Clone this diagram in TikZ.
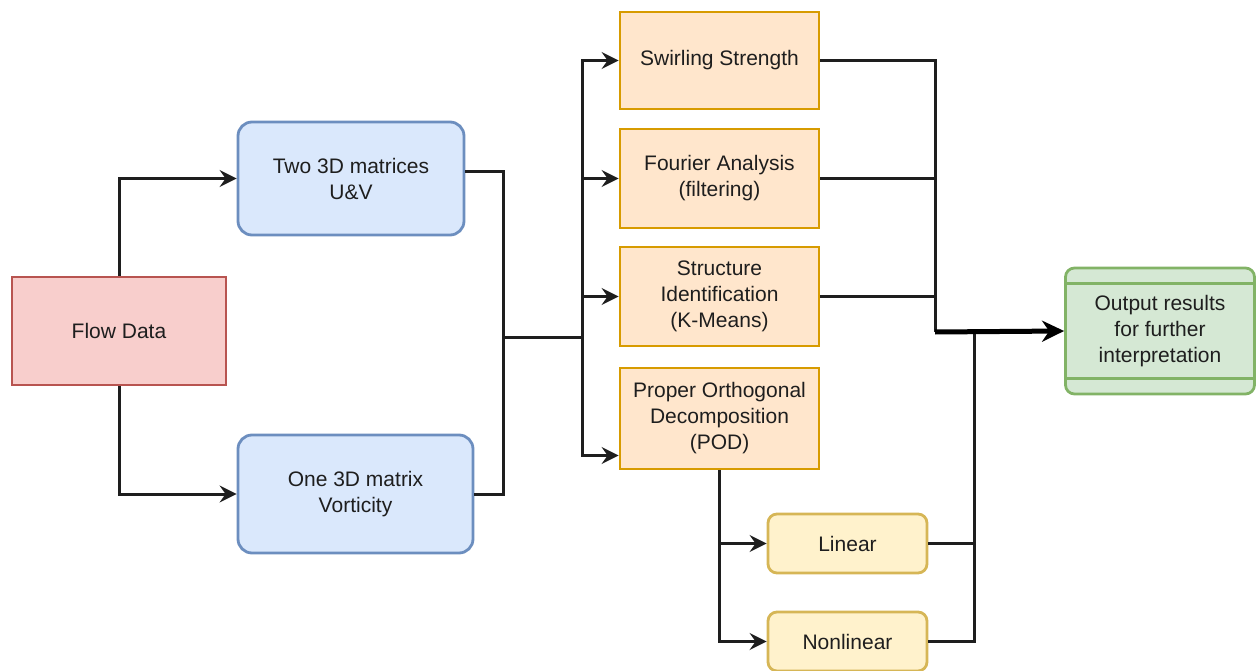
\documentclass[tikz,border=0pt]{standalone}
\usepackage{fontspec}
\setmainfont{Liberation Sans}
\usetikzlibrary{arrows.meta,calc}

\definecolor{redfill}{HTML}{F8CECC}\definecolor{redline}{HTML}{B85450}
\definecolor{bluefill}{HTML}{DAE8FC}\definecolor{blueline}{HTML}{6C8EBF}
\definecolor{orangefill}{HTML}{FFE6CC}\definecolor{orangeline}{HTML}{D79B00}
\definecolor{yellowfill}{HTML}{FFF2CC}\definecolor{yellowline}{HTML}{D6B656}
\definecolor{greenfill}{HTML}{D5E8D4}\definecolor{greenline}{HTML}{82B366}
\definecolor{ink}{HTML}{1E1E1E}

\tikzset{
  box/.style={draw, line width=2.8pt, align=center, text=ink, inner sep=0pt,
    font=\fontsize{21}{26}\selectfont},
  sourcebox/.style={box, fill=redfill, draw=redline},
  matbox/.style={box, fill=bluefill, draw=blueline, rounded corners=14pt},
  methbox/.style={box, fill=orangefill, draw=orangeline},
  podbox/.style={box, fill=yellowfill, draw=yellowline, rounded corners=9pt},
  outbox/.style={box, fill=greenfill, draw=greenline, rounded corners=9pt},
  wire/.style={draw=ink, line width=3pt},
  flow/.style={wire, -{Stealth[length=17pt,width=17pt,inset=6pt]}},
  mainflow/.style={draw=black, line width=5pt, -{Stealth[length=22pt,width=21pt,inset=7pt]}}
}

\begin{document}
\begin{tikzpicture}[x=1pt,y=-1pt]
\useasboundingbox (0,0) rectangle (1256,671);

% sources and matrices
\node[sourcebox, minimum width=214pt, minimum height=108pt] (flowdata) at (119,331) {Flow Data};
\node[matbox, minimum width=226pt, minimum height=113pt] (twomat) at (351,178.5) {Two 3D matrices\\U\&V};
\node[matbox, minimum width=235pt, minimum height=118pt] (onemat) at (355.5,494) {One 3D matrix\\Vorticity};

% analysis methods
\node[methbox, minimum width=199pt, minimum height=97pt] (swirl) at (719.5,60.5) {Swirling Strength};
\node[methbox, minimum width=199pt, minimum height=99pt] (fourier) at (719.5,178.5) {Fourier Analysis\\(filtering)};
\node[methbox, minimum width=199pt, minimum height=99pt] (struct) at (719.5,296.5) {Structure\\Identification\\(K-Means)};
\node[methbox, minimum width=199pt, minimum height=101pt] (pod) at (719.5,418.5) {Proper Orthogonal\\Decomposition\\(POD)};

% POD variants
\node[podbox, minimum width=159pt, minimum height=59pt] (linear) at (847.5,543.5) {Linear};
\node[podbox, minimum width=159pt, minimum height=59pt] (nonlinear) at (847.5,641.5) {Nonlinear};

% output
\node[outbox, minimum width=189pt, minimum height=126pt] (output) at (1160,331) {Output results\\for further\\interpretation};
\draw[greenline, line width=2.8pt] ([yshift=-17pt]output.north west) -- ([yshift=-17pt]output.north east);
\draw[greenline, line width=2.8pt] ([yshift=17pt]output.south west) -- ([yshift=17pt]output.south east);

% junction points
\coordinate (join) at (503,337);
\coordinate (fan) at (582,337);
\coordinate (collect) at (935,332);
\coordinate (podjoin) at (974,332);

% connectors
\draw[flow] (flowdata.north) |- (twomat.west);
\draw[flow] (flowdata.south) |- (onemat.west);
\draw[wire] ([yshift=7pt]twomat.east) -| (join);
\draw[wire] (onemat.east) -| (join);
\draw[wire] (join) -- (fan);
\draw[flow] (fan) |- (swirl.west);
\draw[flow] (fan) |- (fourier.west);
\draw[flow] (fan) |- (struct.west);
\draw[flow] (fan) |- ([yshift=-37pt]pod.west);
\draw[flow] (pod.south) |- (linear.west);
\draw[flow] (pod.south) |- (nonlinear.west);
\draw[wire] (swirl.east) -| (collect);
\draw[wire] (fourier.east) -| (collect);
\draw[wire] (struct.east) -| (collect);
\draw[wire] (linear.east) -| (podjoin);
\draw[wire] (nonlinear.east) -| (podjoin);
\draw[mainflow] (collect) -- (output.west);
\end{tikzpicture}
\end{document}
